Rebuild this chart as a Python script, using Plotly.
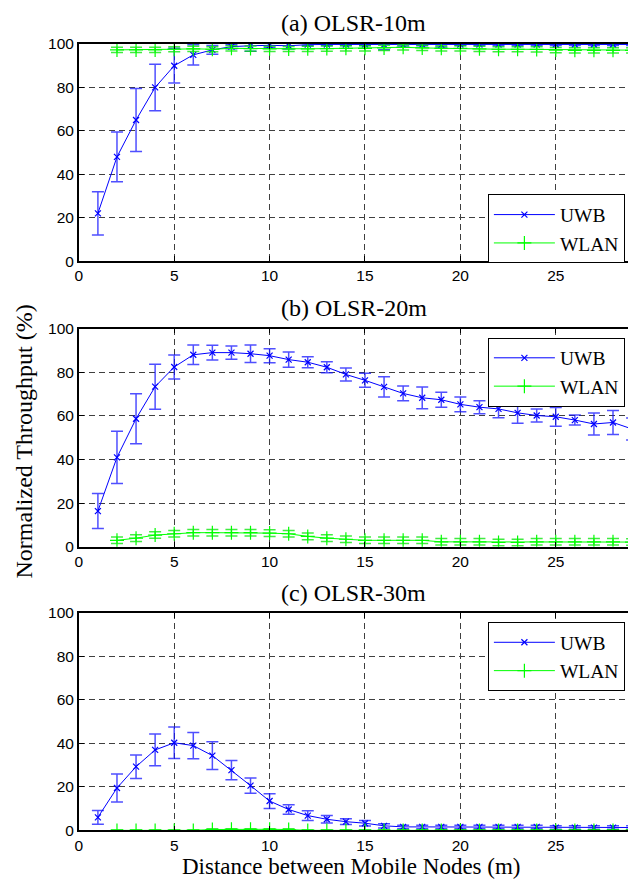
import plotly.graph_objects as go

# ---------------- data ----------------
x_uwb = list(range(1, 31))
x_wlan = list(range(2, 31))

# (a) OLSR-10m
a_uwb = [22, 48, 65, 80, 90, 95, 97.3, 98.8, 99.2, 99.4, 99.2, 99.7, 99.8, 99.8, 99.8,
         99.7, 99.6, 99.7, 99.6, 99.8, 99.8, 99.8, 99.8, 99.8, 99.8, 99.8, 99.8, 99.8, 99.8, 99.8]
a_uwb_err = [10, 11.5, 14.5, 10.7, 8, 4.7, 2, 1, 2.5, 1, 1.5, 0.5, 0.5, 0.5, 0.5,
             2.3, 0.5, 0.5, 1, 0.5, 0.5, 0.5, 0.5, 0.5, 0.5, 0.5, 0.5, 0.5, 0.5, 0.5]
a_wlan = [97.3, 97.3, 97.3, 97.6, 97.8, 97.6, 98, 97.9, 97.8, 97.7, 97.8, 97.9, 98.0,
          98.0, 98.2, 98.5, 98.2, 98.0, 98.0, 97.8, 97.6, 97.6, 97.5, 97.2, 97.1, 97.1, 97.1, 97.1, 97.1]
a_wlan_err = [1.2] * 29

# (b) OLSR-20m
b_uwb = [16.4, 41, 58.7, 73.4, 82.4, 88, 89, 89, 88.5, 87.6, 85.8, 84.6, 82.3, 79, 76.3,
         73.3, 70.3, 68.3, 67.4, 65.3, 64, 63.2, 61.4, 60.2, 59.6, 58.1, 56.3, 57, 54, 53]
b_uwb_err = [8, 12, 11.5, 10.3, 5.5, 4.5, 3.4, 3, 4, 3.2, 3.5, 2.5, 2.5, 3, 3.2,
             4.6, 3.4, 5, 3.4, 3.4, 3, 4, 4.8, 3, 4.3, 2.3, 5, 5.5, 5, 5]
b_wlan = [3, 4, 5.4, 6, 6.5, 6.5, 6.5, 6.5, 6.3, 6, 4.8, 4, 3.5, 3, 3, 3, 3, 2.3,
          2.3, 2.3, 2, 2, 2.3, 2.3, 2.3, 2.3, 2.3, 2.2, 2.2]
b_wlan_err = [1.5] * 29

# (c) OLSR-30m
c_uwb = [6, 19.5, 29.3, 37, 40.3, 39, 34.4, 27.7, 20.6, 13.5, 9.6, 6.8, 5.1, 4, 3.3,
         2.1, 1.6, 1.6, 1.6, 1.6, 1.6, 1.6, 1.6, 1.6, 1.3, 1.3, 1.3, 1.3, 1.3, 1.3]
c_uwb_err = [3.2, 6.4, 5.4, 7.3, 7.2, 6, 6.4, 4.4, 3.5, 3.4, 2.2, 2.2, 1.7, 1.3, 1.3,
             1, 0.8, 0.8, 0.8, 0.8, 0.8, 0.8, 0.8, 0.8, 0.8, 0.8, 0.8, 0.8, 0.8, 0.8]
c_wlan = [0, 0, 0, 0, 0, 0.4, 0.5, 0.5, 0.5, 0.4, 0, 0, 0, 0, 0, 0, 0, 0, 0, 0,
          0, 0, 0, 0, 0, 0, 0, 0, 0]
c_wlan_err = [0.3] * 29

titles = ["(a) OLSR-10m", "(b) OLSR-20m", "(c) OLSR-30m"]
x_ticks = [0, 5, 10, 15, 20, 25]
y_ticks = [0, 20, 40, 60, 80, 100]

panels = [
    (a_uwb, a_uwb_err, a_wlan, a_wlan_err),
    (b_uwb, b_uwb_err, b_wlan, b_wlan_err),
    (c_uwb, c_uwb_err, c_wlan, c_wlan_err),
]

# ---------------- layout geometry (pixels) ----------------
W, H = 628, 894
X0 = 75.3
panel_px = [(35.7, 257.0), (325.8, 548.3), (615.7, 837.3)]
legend_top_px = [189, 335, 625]
title_px = [14, 305, 595]

def fy(p):
    return 1 - p / H

BLUE = "#0000ff"
GREEN = "#00ff00"
SERIF = "Liberation Serif"
SANS = "Liberation Sans"

fig = go.Figure()
layout = dict(
    width=W, height=H,
    margin=dict(l=0, r=0, t=0, b=0),
    paper_bgcolor="white", plot_bgcolor="white",
    showlegend=True,
    annotations=[],
)

for i, (uwb, uwb_err, wlan, wlan_err) in enumerate(panels):
    sfx = "" if i == 0 else str(i + 1)
    xa, ya = "x" + sfx, "y" + sfx
    lg = "legend" + sfx
    fig.add_trace(go.Scatter(
        x=x_uwb, y=uwb, name="UWB", xaxis=xa, yaxis=ya, legend=lg,
        mode="lines+markers", cliponaxis=True,
        line=dict(color=BLUE, width=1),
        marker=dict(symbol="x-thin", size=6, color=BLUE, line=dict(color=BLUE, width=1.2)),
        error_y=dict(type="data", array=uwb_err, visible=True,
                     color="rgba(20,20,255,0.75)", thickness=1.5, width=6),
    ))
    fig.add_trace(go.Scatter(
        x=x_wlan, y=wlan, name="WLAN", xaxis=xa, yaxis=ya, legend=lg,
        mode="lines+markers", cliponaxis=True,
        line=dict(color=GREEN, width=1),
        marker=dict(symbol="cross-thin", size=10, color=GREEN, line=dict(color=GREEN, width=1.2)),
        error_y=dict(type="data", array=wlan_err, visible=True,
                     color="rgba(0,230,0,0.75)", thickness=1.5, width=6),
    ))
    top, bot = panel_px[i]
    layout["xaxis" + sfx] = dict(
        domain=[X0 / W, 1], anchor=ya, range=[0, (W - X0) / 19.2],
        tickvals=x_ticks, ticks="inside", ticklen=5, tickcolor="black",
        showline=True, linecolor="black", linewidth=1.5, mirror="ticks",
        showgrid=True, gridcolor="#404040", gridwidth=1, griddash="6px,4px",
        zeroline=False, tickfont=dict(family=SANS, size=15.5, color="black"),
    )
    layout["yaxis" + sfx] = dict(
        domain=[fy(bot), fy(top)], anchor=xa, range=[0, 100],
        tickvals=y_ticks, ticks="inside", ticklen=5, tickcolor="black",
        showline=True, linecolor="black", linewidth=1.5,
        showgrid=True, gridcolor="#404040", gridwidth=1, griddash="6px,4px",
        zeroline=False, tickfont=dict(family=SANS, size=15.5, color="black"),
    )
    layout[lg] = dict(
        x=487 / W, xanchor="left", y=fy(legend_top_px[i]), yanchor="top",
        bordercolor="black", borderwidth=1, bgcolor="white",
        font=dict(family=SERIF, size=19.5, color="black"),
        tracegroupgap=0, itemwidth=61,
    )
    layout["annotations"].append(dict(
        text=titles[i], xref="paper", yref="paper", x=352 / W, y=fy(title_px[i]),
        xanchor="center", yanchor="middle", showarrow=False,
        font=dict(family=SERIF, size=24, color="black"),
    ))

layout["annotations"].append(dict(
    text="Distance between Mobile Nodes (m)", xref="paper", yref="paper",
    x=350 / W, y=fy(874), xanchor="center", yanchor="middle", showarrow=False,
    font=dict(family=SERIF, size=23, color="black"),
))
layout["annotations"].append(dict(
    text="Normalized Throughput (%)", xref="paper", yref="paper",
    x=20 / W, y=fy(441), xanchor="center", yanchor="middle", showarrow=False,
    textangle=-90, font=dict(family=SERIF, size=24, color="black"),
))

fig.update_layout(**layout)
fig.write_html(
    "out.html",
    config={"displayModeBar": False},
    post_script="document.body.style.margin='0';document.body.style.overflow='hidden';",
)
